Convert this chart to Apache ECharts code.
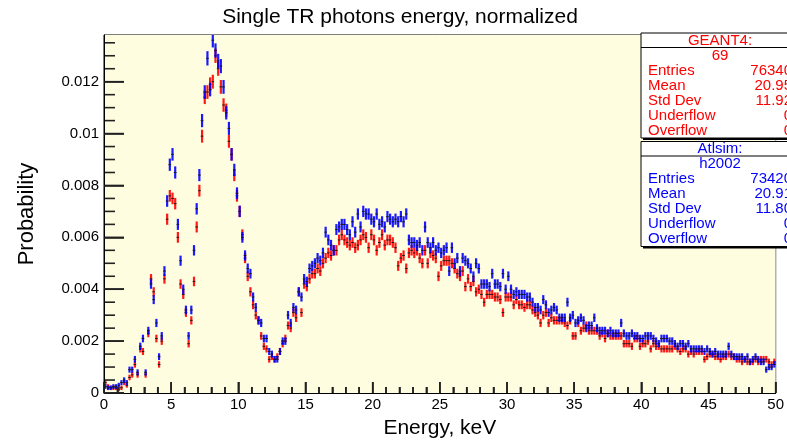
<!DOCTYPE html>
<html><head><meta charset="utf-8">
<script src="https://cdn.jsdelivr.net/npm/echarts@6/dist/echarts.min.js"></script>
<style>html,body{margin:0;padding:0;background:#fff}#c{width:787px;height:444px}</style>
</head><body><div id="c"></div><script>
// Histogram binning (keV)
const BIN_WIDTH = 0.2;
const X_MIN = 0, X_MAX = 50;

// GEANT4 (red) bin contents, 250 bins of 0.2 keV
const geant4 = [
.0004,.00025,.0002,.0002,.0002,.00015,.0002,.0004,.0003,.0006,
.0007,.0011,.0007,.0017,.0016,.0007,.0023,.0044,.0039,.0021,
.0011,.0020,.0044,.0067,.0076,.0075,.0073,.0060,.0042,.0038,
.0031,.0019,.0028,.0043,.0064,.0078,.0099,.0114,.0116,.0119,
.0120,.0130,.0125,.0118,.0111,.0109,.0097,.0092,.0084,.0076,
.0070,.0061,.0052,.0045,.0039,.0034,.0030,.0028,.0022,.0018,
.0017,.0013,.0014,.0013,.0014,.0016,.0019,.0021,.0026,.0025,
.0031,.0029,.0039,.0031,.0042,.0041,.0044,.0046,.0046,.0048,
.0047,.0050,.0052,.0054,.0053,.0055,.0055,.0059,.0061,.0059,
.0058,.0057,.0058,.0056,.0057,.0059,.0061,.0060,.0056,.0061,
.0059,.0055,.0058,.0061,.0057,.0059,.0059,.0058,.0056,.0049,
.0052,.0053,.0048,.0054,.0055,.0054,.0055,.0052,.0050,.0055,
.0050,.0054,.0053,.0052,.0045,.0049,.0051,.0051,.0051,.0050,
.0048,.0046,.0045,.0047,.0041,.0044,.0041,.0043,.0039,.0040,
.0038,.0035,.0038,.0038,.0038,.0037,.0037,.0036,.0031,.0037,
.0037,.0037,.0034,.0036,.0034,.0034,.0033,.0034,.0034,.0032,
.0031,.0030,.0027,.0030,.0031,.0027,.0029,.0028,.0028,.0028,
.0028,.0027,.0026,.0028,.0022,.0022,.0027,.0024,.0025,.0026,
.0024,.0024,.0024,.0024,.0022,.0023,.0021,.0023,.0022,.0022,
.0022,.0022,.0022,.0019,.0019,.0019,.0018,.0021,.0021,.0018,
.0019,.0019,.0020,.0017,.0019,.0018,.0018,.0017,.0017,.0017,
.0017,.0017,.0018,.0017,.0016,.0017,.0017,.0015,.0016,.0015,
.0016,.0016,.0016,.0013,.0014,.0015,.0015,.0014,.0014,.0013,
.0014,.0014,.0015,.0014,.0014,.0013,.0013,.0012,.0013,.0012,
.0012,.0012,.0013,.0012,.0013,.0013,.0013,.0012,.0011,.0012
];

// Atlsim (blue) bin contents
const atlsim = [
.00025,.0002,.0002,.00025,.00025,.0003,.0004,.0005,.0004,.0009,
.0009,.0013,.0008,.0018,.0021,.0008,.0024,.0042,.0036,.0027,
.0014,.0022,.0047,.0074,.0088,.0092,.0085,.0065,.0051,.0040,
.0032,.0022,.0032,.0055,.0071,.0084,.0105,.0116,.0129,.0117,
.0136,.0132,.0128,.0126,.0118,.0108,.0102,.0092,.0086,.0077,
.0070,.0060,.0053,.0048,.0046,.0037,.0033,.0028,.0027,.0021,
.0021,.0016,.0015,.0013,.0013,.0016,.0020,.0020,.0030,.0027,
.0033,.0032,.0039,.0037,.0044,.0043,.0048,.0049,.0050,.0052,
.0051,.0054,.0062,.0059,.0057,.0055,.0063,.0064,.0065,.0065,
.0063,.0061,.0066,.0062,.0069,.0064,.0070,.0069,.0069,.0067,
.0066,.0069,.0065,.0066,.0064,.0068,.0067,.0066,.0067,.0066,
.0068,.0066,.0069,.0059,.0058,.0058,.0057,.0058,.0055,.0064,
.0058,.0056,.0058,.0055,.0056,.0054,.0055,.0056,.0047,.0056,
.0050,.0052,.0047,.0052,.0051,.0050,.0048,.0045,.0050,.0048,
.0042,.0042,.0042,.0041,.0046,.0042,.0042,.0041,.0046,.0040,
.0045,.0040,.0038,.0039,.0038,.0038,.0038,.0037,.0037,.0035,
.0033,.0033,.0032,.0036,.0034,.0031,.0032,.0033,.0032,.0029,
.0029,.0029,.0035,.0029,.0030,.0027,.0028,.0029,.0028,.0025,
.0026,.0026,.0029,.0025,.0024,.0024,.0024,.0023,.0024,.0023,
.0023,.0023,.0027,.0023,.0022,.0022,.0023,.0022,.0022,.0021,
.0021,.0022,.0022,.0022,.0021,.0020,.0019,.0021,.0021,.0021,
.0020,.0020,.0019,.0018,.0019,.0019,.0018,.0019,.0017,.0017,
.0017,.0017,.0017,.0016,.0017,.0016,.0015,.0016,.0015,.0015,
.0015,.0015,.0018,.0015,.0014,.0014,.0014,.0014,.0013,.0014,
.0012,.0013,.0014,.0013,.0012,.0012,.0009,.0010,.0010,.0011
];

// Axis ticks / labels
const xMajorTicks = [0,5,10,15,20,25,30,35,40,45,50];
const xMinorTicks = [1,2,3,4,6,7,8,9,11,12,13,14,16,17,18,19,21,22,23,24,26,27,28,29,31,32,33,34,36,37,38,39,41,42,43,44,46,47,48,49];
const yMajorTicks = [0,0.002,0.004,0.006,0.008,0.01,0.012];
const yMinorTicks = [0.0005,0.001,0.0015,0.0025,0.003,0.0035,0.0045,0.005,0.0055,0.0065,0.007,0.0075,0.0085,0.009,0.0095,0.0105,0.011,0.0115,0.0125,0.013,0.0135];
const Y_MAX = 0.0138;

// Stat boxes text
const statG4 = {title:'GEANT4:', name:'69', rows:[['Entries','76340'],['Mean','20.95'],['Std Dev','11.92'],['Underflow','0'],['Overflow','0']]};
const statAt = {title:'Atlsim:', name:'h2002', rows:[['Entries','73420'],['Mean','20.91'],['Std Dev','11.80'],['Underflow','0'],['Overflow','0']]};

// Statistical error bar half-length derived from bin content
function errOf(v){ return 0.0019*Math.sqrt(v) + 0.00006; }

const FONT = '"Liberation Sans", Arial, Helvetica, sans-serif';
const centers = geant4.map((_, i) => X_MIN + (i + 0.5) * BIN_WIDTH);

function mkData(vals){ return vals.map((v,i)=>[centers[i], v, errOf(v)]); }

function mkRender(color){
  return function(params, api){
    const x = api.value(0), y = api.value(1), e = api.value(2);
    const c = api.coord([x, y]);
    const t = api.coord([x, y + e]);
    const b = api.coord([x, Math.max(0, y - e)]);
    const l = api.coord([x - BIN_WIDTH/2, y]);
    const r = api.coord([x + BIN_WIDTH/2, y]);
    return {type:'group', children:[
      {type:'line', shape:{x1:c[0], y1:t[1], x2:c[0], y2:b[1]}, style:{stroke:color, lineWidth:2.2, opacity:0.9}},
      {type:'line', shape:{x1:l[0], y1:c[1], x2:r[0], y2:c[1]}, style:{stroke:'#1a1a1a', lineWidth:1}}
    ]};
  };
}

// pad background
function renderBg(params, api){
  const cs = params.coordSys;
  return {type:'rect', shape:{x:cs.x, y:cs.y, width:cs.width, height:cs.height}, style:{fill:'#fffde0'}};
}

// inward axis ticks, placed through the axis scales (api.coord)
function renderTicks(params, api){
  const kids = [];
  const xt = (v, len) => {
    const p = api.coord([v, 0]);
    kids.push({type:'line', shape:{x1:p[0], y1:p[1], x2:p[0], y2:p[1]-len}, style:{stroke:'#222', lineWidth:1.6}});
  };
  const yt = (v, len) => {
    const p = api.coord([X_MIN, v]);
    kids.push({type:'line', shape:{x1:p[0], y1:p[1], x2:p[0]+len, y2:p[1]}, style:{stroke:'#222', lineWidth:1.6}});
  };
  xMajorTicks.forEach(v => xt(v, 11));
  xMinorTicks.forEach(v => xt(v, 6));
  yMajorTicks.forEach(v => yt(v, 20));
  yMinorTicks.forEach(v => yt(v, 11));
  return {type:'group', children:kids};
}

function statBox(s, top, color){
  const left = 641, w = 158, rowH = 15, h = rowH*7;
  const els = [];
  els.push({type:'rect', z:100, shape:{x:left+2, y:top+2, width:w, height:h}, style:{fill:'#000'}});
  els.push({type:'rect', z:101, shape:{x:left, y:top, width:w, height:h}, style:{fill:'#fff', stroke:'#000', lineWidth:1}});
  els.push({type:'line', z:102, shape:{x1:left, y1:top+14.5, x2:left+w, y2:top+14.5}, style:{stroke:'#000', lineWidth:1}});
  const txt = (text, x, y, align) => ({type:'text', z:103, style:{text, x, y, font:'15px '+FONT, fill:color, align, verticalAlign:'middle', textAlign:align, textVerticalAlign:'middle'}});
  els.push(txt(s.title, 720, top + 7.5, 'center'));
  els.push(txt(s.name, 720, top + 22.5, 'center'));
  s.rows.forEach((r, k) => {
    const y = top + 37.5 + k*rowH;
    els.push(txt(r[0], 648, y, 'left'));
    els.push(txt(r[1], 792, y, 'right'));
  });
  return els;
}

const chart = echarts.init(document.getElementById('c'), null, {renderer:'canvas'});
chart.setOption({
  animation:false,
  backgroundColor:'#ffffff',
  grid:{left:104, top:35, width:673, height:362, show:true, backgroundColor:'transparent', borderColor:'#000', borderWidth:1},
  xAxis:{type:'value', min:X_MIN, max:X_MAX, interval:5, z:20,
    axisLine:{show:true, onZero:false, lineStyle:{color:'#000', width:1}},
    axisTick:{show:true, inside:true, length:11, lineStyle:{color:'#222', width:1.6}},
    minorTick:{show:true, splitNumber:5, length:6, lineStyle:{color:'#222', width:1.6}},
    splitLine:{show:false},
    axisLabel:{color:'#000', fontSize:15, fontFamily:FONT, margin:4},
    name:'Energy, keV', nameLocation:'middle', nameGap:25,
    nameTextStyle:{color:'#000', fontSize:21, fontFamily:FONT}
  },
  yAxis:{type:'value', min:0, max:Y_MAX, z:20,
    axisLine:{show:true, onZero:false, lineStyle:{color:'#000', width:1}},
    axisTick:{show:true, inside:true, length:20, lineStyle:{color:'#222', width:1.6}, customValues:yMajorTicks},
    axisLabel:{color:'#000', fontSize:15, fontFamily:FONT, margin:5, customValues:yMajorTicks},
    splitLine:{show:false},
    name:'Probability', nameLocation:'middle', nameGap:66,
    nameTextStyle:{color:'#000', fontSize:22, fontFamily:FONT}
  },
  series:[
    {type:'custom', name:'bg', renderItem:renderBg, data:[[0,0]], encode:{x:0, y:1}, silent:true, z:0},
    {type:'custom', name:'GEANT4', renderItem:mkRender('#ff0000'), data:mkData(geant4), encode:{x:0, y:1}, clip:true, z:2},
    {type:'custom', name:'Atlsim', renderItem:mkRender('#0000ff'), data:mkData(atlsim), encode:{x:0, y:1}, clip:true, z:3},
    {type:'custom', name:'ticks', renderItem:renderTicks, data:[[0,0]], encode:{x:0, y:1}, silent:true, z:6}
  ],
  graphic:[
    {type:'text', z:50, style:{text:'Single TR photons energy, normalized', x:400, y:17, font:'21px '+FONT, fill:'#000', align:'center', verticalAlign:'middle', textAlign:'center', textVerticalAlign:'middle'}}
  ].concat(statBox(statG4, 33, '#ff0000'), statBox(statAt, 141.5, '#0000ff'))
});
</script></body></html>
